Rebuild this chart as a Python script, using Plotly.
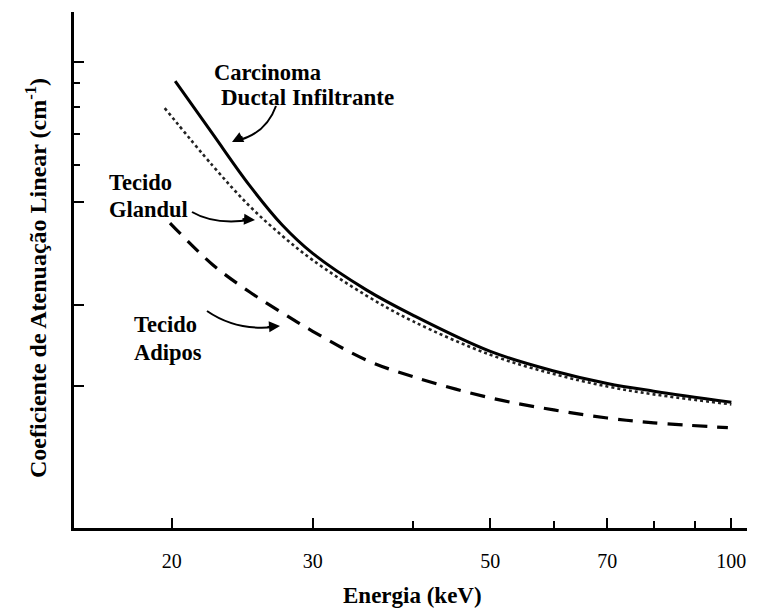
import math
import plotly.graph_objects as go

# ---- data ----
energia_carcinoma = [20.2, 22.5, 25, 27.5, 30, 35, 40, 50, 60, 70, 80, 100]
carcinoma = [0.910, 0.700, 0.543, 0.445, 0.387, 0.323, 0.285, 0.238, 0.216, 0.203, 0.1954, 0.185]

energia_glandular = [19.6, 22.5, 25, 27.5, 30, 35, 40, 50, 60, 70, 80, 100]
glandular = [0.796, 0.598, 0.490, 0.422, 0.3744, 0.314, 0.2765, 0.234, 0.2127, 0.200, 0.1923, 0.183]

energia_adiposo = [19.9, 22.5, 25, 27.5, 30, 35, 40, 50, 60, 70, 80, 99]
adiposo = [0.450, 0.366, 0.320, 0.288, 0.263, 0.228, 0.210, 0.189, 0.178, 0.171, 0.167, 0.163]

x_tick_vals = [20, 30, 50, 70, 100]
x_tick_text = ["20", "30", "50", "70", "100"]
x_minor_vals = [40, 60, 80, 90]
y_major_vals = [1.0, 0.5, 0.3, 0.2]
y_minor_vals = [0.9, 0.8, 0.7, 0.6]

# ---- layout geometry (pixels) ----
W, H = 763, 610
PL, PR, PT, PB = 74, 747, 12, 528


def px(x):
    return (x - PL) / (PR - PL)


def py(y):
    return (PB - y) / (PB - PT)


SERIF = "Liberation Serif"

fig = go.Figure()
fig.add_trace(go.Scatter(x=energia_carcinoma, y=carcinoma, mode="lines",
                         line=dict(color="black", width=3, shape="spline", smoothing=1.0),
                         name="Carcinoma"))
fig.add_trace(go.Scatter(x=energia_glandular, y=glandular, mode="lines",
                         line=dict(color="#222", width=2.6, dash="dot", shape="spline", smoothing=1.0),
                         name="Glandular"))
fig.add_trace(go.Scatter(x=energia_adiposo, y=adiposo, mode="lines",
                         line=dict(color="black", width=3.2, dash="15px,10px", shape="spline", smoothing=1.0),
                         name="Adiposo"))

annotations = []


def label(text, left, cy, size=22.5):
    annotations.append(dict(text="<b>%s</b>" % text, xref="paper", yref="paper",
                            x=px(left), y=py(cy), xanchor="left", yanchor="middle",
                            showarrow=False, font=dict(family=SERIF, size=size, color="black")))


label("Carcinoma", 212, 72)
label("Ductal Infiltrante", 219, 98, 23)
label("Tecido", 107, 182)
label("Glandul", 107, 209)
label("Tecido", 132, 324)
label("Adipos", 132, 352)

# axis titles
annotations.append(dict(text="<b>Energia (keV)</b>", xref="paper", yref="paper",
                        x=px(412), y=py(595), xanchor="center", yanchor="middle",
                        showarrow=False, font=dict(family=SERIF, size=23, color="black")))
annotations.append(dict(text="<b>Coeficiente de Atenuação Linear (cm<sup>-1</sup>)</b>",
                        xref="paper", yref="paper", x=px(36), y=py(278),
                        xanchor="center", yanchor="middle", textangle=-90,
                        showarrow=False, font=dict(family=SERIF, size=24, color="black")))

# arrowheads
for tip, off in [((232, 142), (12, -6)), ((255, 220), (-14, -1)), ((280, 326), (-14, 1))]:
    annotations.append(dict(text="", xref="paper", yref="paper", x=px(tip[0]), y=py(tip[1]),
                            ax=off[0], ay=off[1], showarrow=True, arrowhead=2,
                            arrowsize=1.1, arrowwidth=2, arrowcolor="black"))

shapes = []
for (a, c, b) in [((276, 106), (266, 134), (236, 141)),
                  ((192, 212), (214, 225), (250, 220)),
                  ((207, 311), (236, 331), (274, 327))]:
    path = "M %f,%f Q %f,%f %f,%f" % (px(a[0]), py(a[1]), px(c[0]), py(c[1]), px(b[0]), py(b[1]))
    shapes.append(dict(type="path", xref="paper", yref="paper", path=path,
                       line=dict(color="black", width=2)))

fig.update_layout(
    width=W, height=H,
    margin=dict(l=PL, r=W - PR, t=PT, b=H - PB),
    paper_bgcolor="white", plot_bgcolor="white",
    showlegend=False,
    annotations=annotations,
    shapes=shapes,
)
fig.update_xaxes(type="log", range=[math.log10(15.1), math.log10(104.6)],
                 showline=True, linecolor="black", linewidth=2.5, mirror=False,
                 showgrid=False, zeroline=False,
                 tickmode="array", tickvals=x_tick_vals, ticktext=x_tick_text,
                 ticks="inside", ticklen=10, tickwidth=2, tickcolor="black",
                 minor=dict(tickmode="array", tickvals=x_minor_vals, ticks="inside",
                            ticklen=7, tickwidth=2, tickcolor="black", showgrid=False),
                 tickfont=dict(family=SERIF, size=20, color="black"),
                 ticklabelstandoff=13)
fig.update_yaxes(type="log", range=[-1.004, 0.108],
                 showline=True, linecolor="black", linewidth=2.5,
                 showgrid=False, zeroline=False, showticklabels=False,
                 tickmode="array", tickvals=y_major_vals,
                 ticks="inside", ticklen=10, tickwidth=2, tickcolor="black",
                 minor=dict(tickmode="array", tickvals=y_minor_vals, ticks="inside",
                            ticklen=6, tickwidth=2, tickcolor="black", showgrid=False))

fig.write_html("out.html")
